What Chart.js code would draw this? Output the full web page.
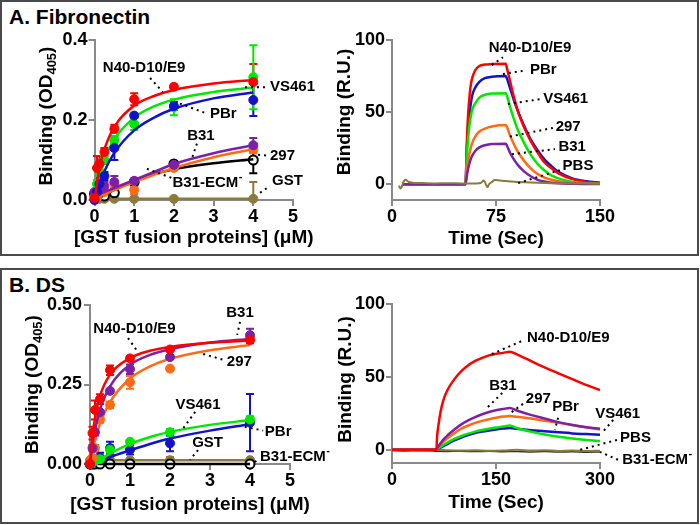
<!DOCTYPE html>
<html><head><meta charset="utf-8">
<script src="https://cdn.jsdelivr.net/npm/chart.js@4.4.1/dist/chart.umd.min.js"></script>
<style>
body{margin:0;background:#fff;width:700px;height:525px;position:relative;overflow:hidden;font-family:Arial,'Liberation Sans',sans-serif}
.box{position:absolute;border:2px solid #4a4a4a;box-sizing:border-box}
.ptitle{position:absolute;font-weight:bold;font-size:21px;line-height:24px;color:#000;white-space:nowrap}
canvas{position:absolute}
</style></head><body>
<div class="box" style="left:0;top:0;width:699px;height:256px"></div>
<div class="box" style="left:0;top:268px;width:699px;height:256px"></div>
<div class="ptitle" style="left:9px;top:5px">A. Fibronectin</div>
<div class="ptitle" style="left:9px;top:273px">B. DS</div>
<canvas id="cA1" width="335" height="258" style="left:0;top:0"></canvas>
<canvas id="cA2" width="363" height="258" style="left:335px;top:0"></canvas>
<canvas id="cB1" width="335" height="262" style="left:0;top:260px"></canvas>
<canvas id="cB2" width="363" height="262" style="left:335px;top:260px"></canvas>
<script>
// ---------- DATA ----------
const CONC = [0, 0.0625, 0.125, 0.25, 0.5, 1, 2, 4];
const FIT_X_A = [0, 0.125, 0.25, 0.5, 1, 1.5, 2, 3, 4];
const FIT_X_B = [0, 0.0625, 0.125, 0.25, 0.5, 1, 1.5, 2, 3, 4];

// Panel A: Fibronectin ELISA
const FN_N40 = [0.005, 0.08, 0.09, 0.12, 0.178, 0.252, 0.283, 0.295];
const FN_N40_ERR = [0, 0.03, 0.02, 0.01, 0.01, 0.015, 0.005, 0.045];
const FN_N40_FIT = [0, 0.079, 0.127, 0.183, 0.236, 0.26, 0.275, 0.291, 0.3];
const FN_VS461 = [0.005, 0.04, 0.07, 0.10, 0.15, 0.19, 0.232, 0.307];
const FN_VS461_ERR = [0, 0.01, 0.01, 0.01, 0.01, 0.015, 0.02, 0.08];
const FN_VS461_FIT = [0, 0.059, 0.1, 0.152, 0.206, 0.234, 0.251, 0.27, 0.281];
const FN_PBR = [0, 0.02, 0.04, 0.06, 0.13, 0.211, 0.235, 0.25];
const FN_PBR_ERR = [0, 0, 0.01, 0.01, 0.03, 0.005, 0.01, 0.04];
const FN_PBR_FIT = [0, 0.04, 0.072, 0.118, 0.174, 0.206, 0.228, 0.254, 0.269];
const FN_B31 = [0.02, 0.02, 0.025, 0.035, 0.045, 0.048, 0.088, 0.137];
const FN_B31_ERR = [0.005, 0.005, 0.01, 0.01, 0.015, 0.005, 0.005, 0.018];
const FN_B31_FIT = [0.012, 0.016, 0.02, 0.03, 0.05, 0.07, 0.09, 0.117, 0.137];
const FN_297 = [0.01, 0.005, 0.02, 0.02, 0.04, 0.025, 0.08, 0.127];
const FN_297_ERR = [0.005, 0.005, 0.01, 0.01, 0.01, 0.01, 0.005, 0.01];
const FN_297_FIT = [0.005, 0.01, 0.015, 0.025, 0.045, 0.063, 0.08, 0.107, 0.127];
const FN_ECM = [0.015, 0.01, 0.015, 0.01, 0.018, 0.045, 0.09, 0.10];
const FN_ECM_ERR = [0, 0, 0, 0, 0, 0, 0, 0.033];
const FN_ECM_FIT = [0, 0.006, 0.012, 0.025, 0.048, 0.065, 0.077, 0.092, 0.102];
const FN_GST = [0.003, 0.003, 0.003, 0.003, 0.003, 0.003, 0.003, 0.003];
const FN_GST_ERR = [0, 0, 0, 0, 0, 0, 0, 0.042];
const FN_GST_FIT = [0.003, 0.003, 0.003, 0.003, 0.003, 0.003, 0.003, 0.003, 0.003];

// Panel B: DS ELISA
const DS_N40 = [0, 0.097, 0.17, 0.204, 0.295, 0.332, 0.36, 0.39];
const DS_N40_ERR = [0, 0.02, 0.03, 0.015, 0.015, 0.005, 0.005, 0.01];
const DS_N40_FIT = [0, 0.088, 0.144, 0.214, 0.281, 0.333, 0.356, 0.368, 0.381, 0.388];
const DS_B31 = [0, 0.05, 0.10, 0.163, 0.23, 0.298, 0.336, 0.405];
const DS_B31_ERR = [0, 0.01, 0.01, 0.005, 0.005, 0.015, 0.005, 0.02];
const DS_B31_FIT = [0, 0.061, 0.106, 0.171, 0.244, 0.312, 0.343, 0.361, 0.382, 0.393];
const DS_297 = [0.01, 0.02, 0.05, 0.14, 0.186, 0.257, 0.30, 0.395];
const DS_297_ERR = [0, 0.005, 0.01, 0.01, 0.01, 0.02, 0.005, 0.01];
const DS_297_FIT = [0, 0.041, 0.074, 0.126, 0.195, 0.269, 0.307, 0.331, 0.358, 0.374];
const DS_VS461 = [0, 0.005, 0.01, 0.015, 0.045, 0.07, 0.10, 0.14];
const DS_VS461_ERR = [0, 0, 0.005, 0.005, 0.015, 0.005, 0.01, 0.01];
const DS_VS461_FIT = [0, 0.003, 0.007, 0.014, 0.033, 0.063, 0.085, 0.101, 0.123, 0.138];
const DS_PBR = [0, 0.005, 0.01, 0.02, 0.05, 0.045, 0.065, 0.13];
const DS_PBR_ERR = [0, 0, 0.005, 0.015, 0.02, 0.015, 0.025, 0.09];
const DS_PBR_FIT = [0, 0.002, 0.004, 0.009, 0.022, 0.043, 0.063, 0.08, 0.105, 0.125];
const DS_GST = [0.012, 0.012, 0.012, 0.012, 0.012, 0.012, 0.012, 0.012];
const DS_GST_ERR = [0, 0, 0, 0, 0.005, 0, 0.01, 0];
const DS_GST_FIT = [0.012, 0.012, 0.012, 0.012, 0.012, 0.012, 0.012, 0.012, 0.012, 0.012];
const DS_ECM = [0, 0, 0, 0, 0, 0, 0, 0];
const DS_ECM_ERR = [0, 0, 0, 0, 0, 0, 0, 0];
const DS_ECM_FIT = [0, 0, 0, 0, 0, 0, 0, 0, 0, 0];

// Panel A SPR (Time, R.U.)
const T_A = [8, 53, 54, 55, 56, 57, 58, 60, 63, 67, 72, 82, 83, 85, 88, 91, 95, 100, 105, 110, 115, 120, 130, 140, 150];
const SPR_A_N40 = [0, 0, 30, 50, 62, 70, 74, 79, 82, 83, 83.3, 83.5, 80, 72, 60, 50, 40, 30, 22, 15, 11, 7.5, 3.5, 1.5, 0.8];
const SPR_A_PBR = [0, 0, 25, 40, 50, 57, 62, 67, 71, 73.5, 74.5, 75, 73, 67, 58, 50, 41, 31, 23.5, 17, 12.5, 8.5, 4, 2, 1];
const SPR_A_VS461 = [0, 0, 20, 33, 42, 48, 52, 56, 60, 62, 62.8, 63, 61, 54, 45, 37, 29, 20.5, 14, 9.5, 6, 4, 1.5, 0.7, 0.3];
const SPR_A_297 = [0, 0, 10, 17, 22, 26, 29, 33, 36.5, 38.5, 40, 41, 39.5, 34, 27.5, 22, 16.5, 11, 7, 4.5, 3, 2, 0.8, 0.4, 0.2];
const SPR_A_B31 = [0, 0, 6, 11, 15, 18, 20, 23, 25.5, 27, 27.8, 28, 26.5, 22, 17, 13, 9, 5.5, 3, 1.8, 1, 0.6, 0.3, 0.1, 0.1];
const T_A_PBS = [5, 6, 7, 8, 9, 10, 12, 15, 20, 30, 40, 50, 60, 64, 66, 67, 68, 69, 70, 72, 74, 78, 82, 86, 90, 100, 110, 120, 130, 140, 150];
const SPR_A_PBS = [-1, -3, -2, 1, 2.5, 3, 1.5, 1, 0.8, 0.5, 0.6, 0.5, 0.5, 0.8, 2.5, 1.5, -1, -2, 0, 1.5, 2.8, 2.5, 2.2, 1.8, 1.5, 1.2, 0.8, 0.6, 0.5, 0.4, 0.3];

// Panel B SPR
const T_B = [0, 64, 65, 67, 70, 74, 80, 90, 100, 110, 120, 130, 140, 150, 160, 170, 180, 200, 220, 240, 260, 280, 300];
const SPR_B_N40 = [0, 0, 9, 17, 26, 34, 41, 48.5, 54, 58, 61, 63, 64.8, 65.8, 66.5, 67.3, 65.5, 61, 56.5, 52.5, 48.5, 44.5, 41];
const SPR_B_B31 = [0, 0, 1, 2.5, 4.5, 7, 10, 14, 17.5, 20.2, 22.5, 24.4, 26, 27.2, 28, 28.7, 27, 24, 21.5, 19, 17, 15.5, 14.5];
const SPR_B_297 = [0, 0, 0.8, 2, 3.5, 5.5, 8, 11.5, 14.5, 16.7, 18.5, 19.9, 21, 22, 22.8, 23.3, 22.7, 21.5, 20, 18.5, 17, 15.5, 14];
const SPR_B_VS461 = [0, 0, 0.4, 1, 2, 3.3, 5, 7.5, 9.5, 11.1, 12.5, 13.6, 14.5, 15.3, 16, 16.7, 15, 12.5, 10.5, 9, 7.8, 6.8, 6];
const SPR_B_PBR = [0, 0, 0.3, 0.8, 1.5, 2.6, 4, 6.5, 8.5, 10.1, 11.5, 12.5, 13.3, 14, 14.6, 15, 14.5, 13.5, 12.8, 12, 11.3, 10.8, 10.3];
const T_B_BASE = [0, 20, 40, 60, 64, 80, 100, 120, 140, 160, 180, 200, 220, 240, 260, 280, 300];
const SPR_B_PBS = [-0.2, 0, -0.4, -0.2, 0, -0.3, -0.5, -0.3, -0.6, -0.4, 0, -0.5, -0.3, -0.7, -0.5, -0.8, -0.6];
const SPR_B_ECM = [-0.5, -0.7, -0.6, -0.8, -1, -1.1, -0.9, -1.2, -1, -1.3, -1.1, -1.4, -1.2, -1.5, -1.3, -1.6, -1.5];

// Tick labels
const X_TICKS_CONC = [0, 1, 2, 3, 4, 5];
const Y_TICKS_FN = [0, 0.2, 0.4];
const Y_TICKS_DS = [0, 0.25, 0.5];
const X_TICKS_SPR_A = [0, 75, 150];
const X_TICKS_SPR_B = [0, 150, 300];
const Y_TICKS_SPR = [0, 50, 100];

// ---------- STYLE ----------
const FONT = "Arial, 'Liberation Sans', sans-serif";
const GRAY = '#8a8a8a';
const COL = {red:'#ff0000', green:'#00e800', blue:'#1212c8', purple:'#7b21a6', orange:'#ff6a14', black:'#000000', olive:'#8c7a3a'};

function bindingSets(series, fitX) {
  const ds = [];
  series.forEach(s => {
    ds.push({data: fitX.map((x, i) => ({x, y: s.fit[i]})), showLine: true, borderColor: s.color,
      borderWidth: 2.5, pointRadius: 0, cubicInterpolationMode: 'monotone', clip: false});
    ds.push({data: CONC.map((x, i) => ({x, y: s.pts[i]})), showLine: false, pointRadius: 4.5,
      pointBackgroundColor: s.open ? '#ffffff' : s.color, pointBorderColor: s.open ? '#000' : s.color,
      pointBorderWidth: s.open ? 2 : 1, errors: s.err, errColor: s.open ? '#000' : s.color, clip: false});
  });
  return ds;
}
function sprSets(series) {
  return series.map(s => ({data: s.t.map((t, i) => ({x: t, y: s.v[i]})), showLine: true, borderColor: s.color,
    borderWidth: s.w || 2.5, pointRadius: 0, cubicInterpolationMode: s.noisy ? 'default' : 'monotone',
    tension: s.noisy ? 0.3 : 0, clip: false}));
}

const extras = {
  id: 'extras',
  beforeDatasetsDraw(chart) {
    const ctx = chart.ctx, xs = chart.scales.x, ys = chart.scales.y, area = chart.chartArea;
    chart.data.datasets.forEach(d => {
      if (!d.errors) return;
      ctx.save();
      ctx.strokeStyle = d.errColor; ctx.lineWidth = 2;
      d.data.forEach((p, i) => {
        const e = d.errors[i];
        if (!e || e < 0.003) return;
        const px = xs.getPixelForValue(p.x);
        const y1 = Math.min(ys.getPixelForValue(p.y - e), area.bottom);
        const y2 = ys.getPixelForValue(p.y + e);
        ctx.beginPath();
        ctx.moveTo(px, y1); ctx.lineTo(px, y2);
        ctx.moveTo(px - 4, y2); ctx.lineTo(px + 4, y2);
        if (y1 < area.bottom) { ctx.moveTo(px - 4, y1); ctx.lineTo(px + 4, y1); }
        ctx.stroke();
      });
      ctx.restore();
    });
  },
  afterDraw(chart) {
    const cfg = chart.options.plugins.extras;
    const ctx = chart.ctx, xs = chart.scales.x, ys = chart.scales.y, area = chart.chartArea;
    (cfg.notes || []).forEach(n => {
      ctx.save();
      if (n.l) {
        ctx.strokeStyle = '#000'; ctx.lineWidth = 2; ctx.setLineDash([2, 4]);
        ctx.beginPath();
        ctx.moveTo(xs.getPixelForValue(n.l[0]), ys.getPixelForValue(n.l[1]));
        ctx.lineTo(xs.getPixelForValue(n.l[2]), ys.getPixelForValue(n.l[3]));
        ctx.stroke();
        ctx.setLineDash([]);
      }
      ctx.font = 'bold 15px ' + FONT;
      ctx.fillStyle = '#000'; ctx.textBaseline = 'middle';
      const w = ctx.measureText(n.t).width;
      const sw = n.sup ? 6 : 0;
      let px = xs.getPixelForValue(n.x);
      if (n.a === 'center') px -= (w + sw) / 2;
      const py = ys.getPixelForValue(n.y);
      ctx.textAlign = 'left';
      ctx.fillText(n.t, px, py);
      if (n.sup) { ctx.font = 'bold 11px ' + FONT; ctx.fillText(n.sup, px + w + 0.5, py - 6); }
      ctx.restore();
    });
    // x title (drawn unsqueezed)
    const xt = cfg.xTitle;
    ctx.save();
    ctx.font = 'bold 19px ' + FONT; ctx.fillStyle = '#000';
    ctx.textAlign = 'center'; ctx.textBaseline = 'middle';
    ctx.fillText(xt.text, (area.left + area.right) / 2, xt.y);
    ctx.restore();
    // y title with optional subscript
    const yt = cfg.yTitle;
    ctx.save();
    const cy = (area.top + area.bottom) / 2 + yt.dy;
    ctx.translate(yt.x, cy); ctx.rotate(-Math.PI / 2);
    ctx.fillStyle = '#000'; ctx.textBaseline = 'middle'; ctx.textAlign = 'left';
    const big = 'bold 19px ' + FONT, small = 'bold 13px ' + FONT;
    ctx.font = big; const w1 = ctx.measureText(yt.main).width; const w3 = ctx.measureText(yt.tail || '').width;
    ctx.font = small; const w2 = yt.sub ? ctx.measureText(yt.sub).width : 0;
    let x0 = -(w1 + w2 + w3) / 2;
    ctx.font = big; ctx.fillText(yt.main, x0, 0);
    if (yt.sub) { ctx.font = small; ctx.fillText(yt.sub, x0 + w1, 5); }
    if (yt.tail) { ctx.font = big; ctx.fillText(yt.tail, x0 + w1 + w2, 0); }
    ctx.restore();
  }
};

function makeChart(id, o) {
  const cv = document.getElementById(id);
  const W = cv.width, H = cv.height, a = o.area;
  const tickFont = {family: FONT, size: 18, weight: 'bold'};
  const gridStyle = {display: true, drawOnChartArea: false, drawTicks: true, tickLength: 6, color: GRAY, lineWidth: 2};
  const border = {display: true, color: GRAY, width: 2};
  return new Chart(cv, {
    type: 'scatter',
    data: {datasets: o.datasets},
    options: {
      responsive: false, animation: false, devicePixelRatio: 1,
      layout: {padding: {top: a.top, right: W - a.right, bottom: 0, left: 0}},
      scales: {
        x: {type: 'linear', min: o.x.min, max: o.x.max,
          afterBuildTicks: s => { s.ticks = o.x.ticks.map(v => ({value: v})); },
          afterFit: s => { s.height = H - a.bottom; },
          ticks: {font: tickFont, color: '#000', padding: o.x.pad, maxRotation: 0, autoSkip: false,
            callback: v => String(v)},
          grid: gridStyle, border: border, title: {display: false}},
        y: {type: 'linear', min: o.y.min, max: o.y.max,
          afterBuildTicks: s => { s.ticks = o.y.ticks.map(v => ({value: v})); },
          afterFit: s => { s.width = a.left; },
          ticks: {font: tickFont, color: '#000', padding: o.y.pad, autoSkip: false,
            callback: v => o.y.fmt(v)},
          grid: gridStyle, border: border}
      },
      plugins: {legend: {display: false}, tooltip: {enabled: false},
        extras: {notes: o.notes, yTitle: o.yTitle, xTitle: {text: o.x.title, y: o.x.titleY}}}
    },
    plugins: [extras]
  });
}

makeChart('cA1', {
  area: {left: 94.5, right: 293, top: 40, bottom: 200},
  x: {min: 0, max: 5, ticks: X_TICKS_CONC, pad: 0, title: '[GST fusion proteins] (\u03BCM)', titleY: 238},
  y: {min: 0, max: 0.4, ticks: Y_TICKS_FN, pad: 1, fmt: v => v.toFixed(1)},
  yTitle: {main: 'Binding (OD', sub: '405', tail: ')', x: 47, dy: -4},
  datasets: bindingSets([
    {color: COL.red, pts: FN_N40, err: FN_N40_ERR, fit: FN_N40_FIT},
    {color: COL.blue, pts: FN_PBR, err: FN_PBR_ERR, fit: FN_PBR_FIT},
    {color: COL.green, pts: FN_VS461, err: FN_VS461_ERR, fit: FN_VS461_FIT},
    {color: COL.purple, pts: FN_B31, err: FN_B31_ERR, fit: FN_B31_FIT},
    {color: COL.orange, pts: FN_297, err: FN_297_ERR, fit: FN_297_FIT},
    {color: COL.black, open: true, pts: FN_ECM, err: FN_ECM_ERR, fit: FN_ECM_FIT},
    {color: COL.olive, pts: FN_GST, err: FN_GST_ERR, fit: FN_GST_FIT}
  ], FIT_X_A),
  notes: [
    {t: 'N40-D10/E9', x: 1.25, y: 0.33, a: 'center', l: [1.4, 0.305, 1.72, 0.27]},
    {t: 'VS461', x: 4.42, y: 0.284, a: 'left', l: [3.79, 0.282, 4.32, 0.282]},
    {t: 'PBr', x: 2.91, y: 0.216, a: 'left', l: [2.15, 0.241, 2.83, 0.216]},
    {t: 'B31', x: 2.68, y: 0.161, a: 'center', l: [2.58, 0.141, 2.46, 0.106]},
    {t: '297', x: 4.42, y: 0.111, a: 'left', l: [4.12, 0.113, 4.37, 0.111]},
    {t: 'B31-ECM', sup: '-', x: 2.87, y: 0.043, a: 'center', l: [1.32, 0.078, 1.95, 0.055]},
    {t: 'GST', x: 4.47, y: 0.048, a: 'left', l: [4.17, 0.018, 4.42, 0.035]}
  ]
});

makeChart('cA2', {
  area: {left: 57, right: 265, top: 40, bottom: 200},
  x: {min: 0, max: 150, ticks: X_TICKS_SPR_A, pad: 0, title: 'Time (Sec)', titleY: 238.5},
  y: {min: -11, max: 100, ticks: Y_TICKS_SPR, pad: 1, fmt: v => String(v)},
  yTitle: {main: 'Binding (R.U.)', x: 10, dy: -8},
  datasets: sprSets([
    {color: COL.olive, t: T_A_PBS, v: SPR_A_PBS, noisy: true, w: 2},
    {color: COL.purple, t: T_A, v: SPR_A_B31},
    {color: COL.orange, t: T_A, v: SPR_A_297},
    {color: COL.green, t: T_A, v: SPR_A_VS461},
    {color: COL.red, t: T_A, v: SPR_A_N40},
    {color: COL.blue, t: T_A, v: SPR_A_PBR}
  ]),
  notes: [
    {t: 'N40-D10/E9', x: 99.5, y: 94.4, a: 'center', l: [72, 82.6, 80, 88]},
    {t: 'PBr', x: 99.5, y: 79, a: 'left', l: [80, 76.4, 97, 79]},
    {t: 'VS461', x: 109, y: 59, a: 'left', l: [83.6, 55.6, 107, 59]},
    {t: '297', x: 118, y: 40, a: 'left', l: [85, 33, 116, 39]},
    {t: 'B31', x: 120, y: 25.7, a: 'left', l: [86.5, 20.8, 117.5, 24.3]},
    {t: 'PBS', x: 123, y: 12.5, a: 'left', l: [91, 0.7, 121, 9.7]}
  ]
});

makeChart('cB1', {
  area: {left: 90, right: 290, top: 45, bottom: 204},
  x: {min: 0, max: 5, ticks: X_TICKS_CONC, pad: 0, title: '[GST fusion proteins] (\u03BCM)', titleY: 245},
  y: {min: 0, max: 0.5, ticks: Y_TICKS_DS, pad: 2, fmt: v => v.toFixed(2)},
  yTitle: {main: 'Binding (OD', sub: '405', tail: ')', x: 33, dy: 0},
  datasets: bindingSets([
    {color: COL.red, pts: DS_N40, err: DS_N40_ERR, fit: DS_N40_FIT},
    {color: COL.purple, pts: DS_B31, err: DS_B31_ERR, fit: DS_B31_FIT},
    {color: COL.orange, pts: DS_297, err: DS_297_ERR, fit: DS_297_FIT},
    {color: COL.green, pts: DS_VS461, err: DS_VS461_ERR, fit: DS_VS461_FIT},
    {color: COL.blue, pts: DS_PBR, err: DS_PBR_ERR, fit: DS_PBR_FIT},
    {color: COL.black, open: true, pts: DS_ECM, err: DS_ECM_ERR, fit: DS_ECM_FIT},
    {color: COL.olive, pts: DS_GST, err: DS_GST_ERR, fit: DS_GST_FIT}
  ], FIT_X_B),
  notes: [
    {t: 'N40-D10/E9', x: 1.11, y: 0.424, a: 'center', l: [0.95, 0.396, 1.2, 0.352]},
    {t: 'B31', x: 3.75, y: 0.475, a: 'center', l: [3.75, 0.447, 3.68, 0.406]},
    {t: '297', x: 3.42, y: 0.322, a: 'left', l: [2.83, 0.346, 3.35, 0.327]},
    {t: 'VS461', x: 2.7, y: 0.186, a: 'center', l: [2.63, 0.164, 2.3, 0.107]},
    {t: 'PBr', x: 4.37, y: 0.102, a: 'left', l: [3.87, 0.117, 4.33, 0.105]},
    {t: 'GST', x: 2.94, y: 0.067, a: 'center', l: [2.7, 0.044, 2.5, 0.013]},
    {t: 'B31-ECM', sup: '-', x: 4.25, y: 0.022, a: 'left', l: [4.12, 0.006, 4.22, 0.016]}
  ]
});

makeChart('cB2', {
  area: {left: 57, right: 265, top: 44, bottom: 203},
  x: {min: 0, max: 300, ticks: X_TICKS_SPR_B, pad: 0, title: 'Time (Sec)', titleY: 243},
  y: {min: -9, max: 100, ticks: Y_TICKS_SPR, pad: 1, fmt: v => String(v)},
  yTitle: {main: 'Binding (R.U.)', x: 11, dy: -4},
  datasets: sprSets([
    {color: COL.red, t: T_B, v: SPR_B_N40},
    {color: COL.purple, t: T_B, v: SPR_B_B31},
    {color: COL.orange, t: T_B, v: SPR_B_297},
    {color: COL.green, t: T_B, v: SPR_B_VS461},
    {color: COL.blue, t: T_B, v: SPR_B_PBR},
    {color: COL.olive, t: T_B_BASE, v: SPR_B_PBS, noisy: true, w: 2},
    {color: '#333333', t: T_B_BASE, v: SPR_B_ECM, noisy: true, w: 1.5}
  ]),
  notes: [
    {t: 'N40-D10/E9', x: 194.7, y: 77, a: 'left', l: [144, 65.7, 189, 75]},
    {t: 'B31', x: 160, y: 43.8, a: 'center', l: [159, 39, 137, 28.8]},
    {t: '297', x: 193, y: 35, a: 'left', l: [189, 31.5, 170, 25]},
    {t: 'PBr', x: 231, y: 29.7, a: 'left', l: [239.5, 22, 235, 13.7]},
    {t: 'VS461', x: 293, y: 24.7, a: 'left', l: [319, 20.5, 304, 12.3]},
    {t: 'PBS', x: 329, y: 8.2, a: 'left', l: [324.5, 6.8, 271, 0]},
    {t: 'B31-ECM', sup: '-', x: 332, y: -6.8, a: 'left', l: [326, -6.8, 300, -1.4]}
  ]
});
</script>
</body></html>
